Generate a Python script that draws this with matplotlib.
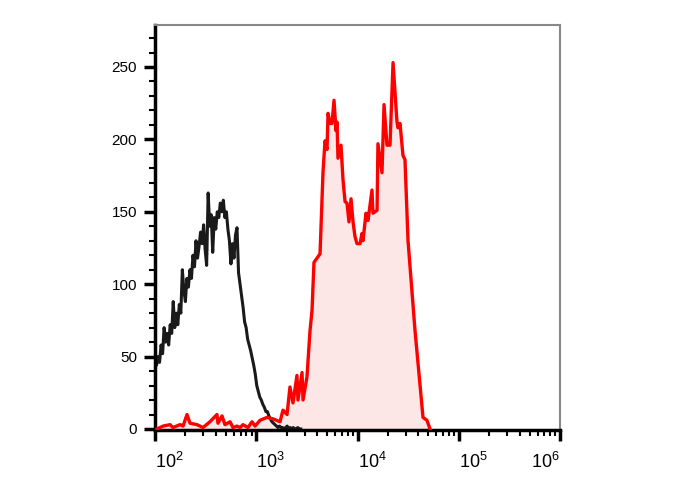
import numpy as np
import matplotlib
matplotlib.use("Agg")
import matplotlib.pyplot as plt
from matplotlib.ticker import FixedLocator, NullFormatter

plt.rcParams['font.family'] = ['Liberation Sans', 'DejaVu Sans']
plt.rcParams['mathtext.fontset'] = 'custom'
plt.rcParams['mathtext.rm'] = 'Liberation Sans'
plt.rcParams['mathtext.it'] = 'Liberation Sans'

# ---- data ----
# isotype control (black): counts per channel, channels on log10 scale from 10^2.00 in steps of 0.015
black_start_log = 2.0
black_step_log = 0.015
black_counts = [47, 44, 50, 46, 58, 52, 70, 60, 66, 58,
                72, 66, 88, 70, 80, 72, 86, 80, 110, 96,
                88, 104, 98, 110, 104, 120, 112, 130, 118, 126,
                136, 128, 141, 124, 113, 163, 140, 148, 122, 146,
                138, 150, 146, 156, 150, 158, 146, 150, 138, 130,
                114, 128, 118, 134, 139, 108, 100, 92, 84, 74,
                70, 62, 58, 54, 49, 44, 38, 30, 26, 22,
                20, 17, 15, 12, 12, 9, 7, 5, 4, 3,
                2, 1, 2, 1, 1, 0, 1, 2, 0, 1,
                0, 1, 0, 0, 1, 0, 0]

# stained sample (red)
red_log_x = [2.020, 2.079, 2.148, 2.178, 2.247, 2.277, 2.316, 2.346, 2.415, 2.474,
             2.543, 2.612, 2.622, 2.662, 2.691, 2.741, 2.770, 2.810, 2.840, 2.869,
             2.919, 2.958, 2.988, 3.037, 3.106, 3.165, 3.235, 3.264, 3.304, 3.333,
             3.363, 3.402, 3.412, 3.452, 3.462, 3.501, 3.531, 3.551, 3.570, 3.610,
             3.630, 3.659, 3.679, 3.699, 3.709, 3.728, 3.748, 3.768, 3.788, 3.798,
             3.807, 3.837, 3.857, 3.877, 3.896, 3.916, 3.936, 3.956, 3.975, 3.995,
             4.025, 4.044, 4.054, 4.084, 4.104, 4.143, 4.153, 4.193, 4.202, 4.242,
             4.262, 4.291, 4.321, 4.351, 4.390, 4.400, 4.420, 4.449, 4.469, 4.499,
             4.568, 4.647, 4.686, 4.716]
red_counts = [0, 2, 3, 1, 3, 2, 10, 4, 3, 1,
              5, 10, 4, 9, 3, 5, 1, 2, 1, 3,
              1, 5, 2, 6, 8, 7, 5, 13, 10, 29,
              18, 37, 20, 39, 20, 36, 68, 82, 115, 119,
              121, 177, 199, 193, 218, 211, 211, 227, 206, 212,
              187, 196, 172, 157, 156, 143, 159, 143, 133, 128,
              128, 135, 130, 149, 144, 165, 149, 151, 197, 177,
              224, 196, 196, 253, 212, 208, 211, 189, 186, 130,
              68, 8, 6, 0]

y_major = [0, 50, 100, 150, 200, 250]
x_major_labels = [r'$10^{2}$', r'$10^{3}$', r'$10^{4}$', r'$10^{5}$', r'$10^{6}$']

# ---- plot ----
fig = plt.figure(figsize=(6.88, 4.90), dpi=100)
ax = fig.add_axes([155/688, 60/490, 405/688, 405/490])

bx = 10 ** (black_start_log + black_step_log * np.arange(len(black_counts)))
rx = 10 ** np.array(red_log_x)

ax.fill_between(rx, red_counts, 0, color='#fde6e6', linewidth=0, zorder=1)
ax.plot(bx, black_counts, color='#1a1a1a', linewidth=2.2, zorder=2)
ax.plot(rx, red_counts, color='#ff0000', linewidth=2.4, zorder=3)

ax.set_xscale('log')
ax.set_xlim(1e2, 1e6)
ax.set_ylim(-0.7, 279)

ax.xaxis.set_major_locator(FixedLocator([1e2, 1e3, 1e4, 1e5, 1e6]))
minors = [m * 10 ** e for e in range(2, 6) for m in range(2, 10)]
ax.xaxis.set_minor_locator(FixedLocator(minors))
ax.xaxis.set_minor_formatter(NullFormatter())
ax.set_xticklabels(x_major_labels)

ax.yaxis.set_major_locator(FixedLocator(y_major))
ax.yaxis.set_minor_locator(FixedLocator(list(range(10, 280, 10))))
ax.set_yticklabels([str(v) for v in y_major])

ax.tick_params(axis='both', which='major', direction='out', length=8, width=2.5,
               labelsize=11, color='black')
ax.tick_params(axis='both', which='minor', direction='out', length=4, width=1.5,
               color='black')
ax.tick_params(axis='x', which='major', pad=8, labelsize=13)
ax.tick_params(axis='y', which='major', pad=5)
for lbl in ax.get_xticklabels()[:-1]:
    lbl.set_horizontalalignment('left')
ax.get_xticklabels()[-1].set_horizontalalignment('right')

for s in ['left', 'bottom']:
    ax.spines[s].set_linewidth(2.5)
    ax.spines[s].set_color('black')
for s in ['top', 'right']:
    ax.spines[s].set_linewidth(1.5)
    ax.spines[s].set_color('#888888')

fig.savefig('out.png', dpi=100)
